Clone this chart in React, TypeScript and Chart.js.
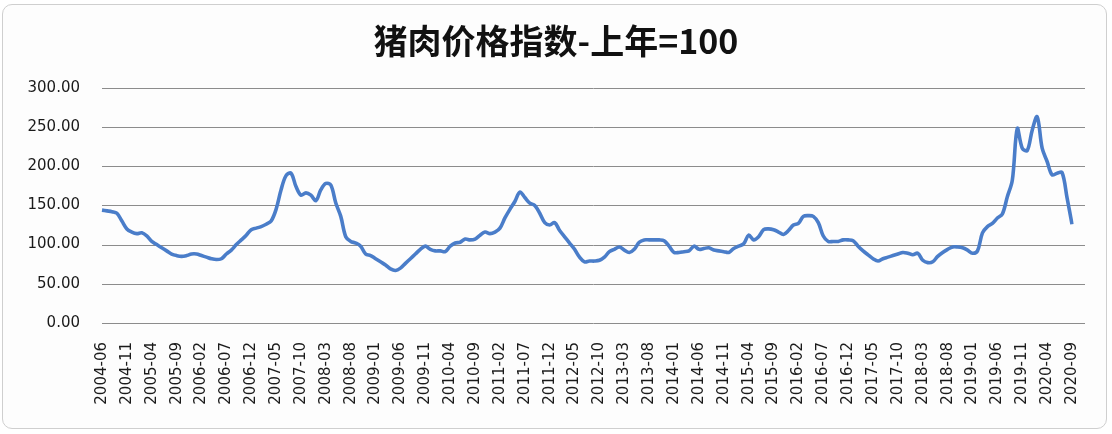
import { useEffect, useRef } from 'react';
import { Chart, registerables } from 'chart.js';

Chart.register(...registerables);

const titleText = '猪肉价格指数-上年=100';

// monthly categories 2004-06 .. 2020-09
const firstYear = 2004;
const firstMonth = 6;
const monthCount = 196;
const months: string[] = [];
for (let k = 0; k < monthCount; k++) {
  const m = firstMonth - 1 + k;
  const yr = firstYear + Math.floor(m / 12);
  const mo = (m % 12) + 1;
  months.push(`${yr}-${mo < 10 ? '0' + mo : mo}`);
}

// 猪肉价格指数 (上年=100)
const porkIndex = [
  144, 143, 142, 140, 130, 120, 116, 114, 115, 111,
  104, 100, 96, 92, 88, 86, 85, 86, 88, 88,
  86, 84, 82, 81, 82, 88, 93, 100, 106, 112,
  119, 121, 123, 126, 130, 145, 170, 188, 191, 174,
  163, 166, 163, 156, 170, 178, 176, 153, 136, 110,
  104, 102, 98, 88, 86, 82, 78, 74, 69, 67,
  70, 76, 82, 88, 94, 98, 94, 92, 92, 91,
  98, 102, 103, 107, 106, 107, 112, 116, 114, 116,
  121, 134, 145, 155, 167, 160, 153, 150, 140, 128,
  125, 128, 118, 110, 102, 94, 84, 78, 79, 79,
  80, 84, 91, 94, 97, 93, 90, 94, 103, 106,
  106, 106, 106, 105, 98, 90, 90, 91, 92, 98,
  94, 95, 96, 93, 92, 91, 90, 95, 98, 101,
  112, 106, 110, 119, 120, 119, 116, 113, 118, 125,
  127, 136, 137, 136, 128, 111, 104, 104, 104, 106,
  106, 105, 98, 92, 87, 82, 79, 82, 84, 86,
  88, 90, 89, 87, 89, 80, 77, 78, 85, 90,
  94, 97, 97, 96, 93, 89, 92, 115, 123, 127,
  134, 139, 161, 182, 248, 223, 220, 246, 263, 223,
  206, 189, 191, 192, 160, 126,
];

const yMin = 0;
const yMax = 300;
const yStep = 50;
const labelEvery = 5;

const extendedGrid = {
  id: 'extendedGrid',
  beforeDatasetsDraw(chart: any) {
    const { ctx, chartArea, scales } = chart;
    const y = scales.y;
    ctx.save();
    ctx.strokeStyle = '#8c8c8c';
    ctx.lineWidth = 1;
    y.ticks.forEach((_t: any, i: number) => {
      const py = Math.round(y.getPixelForTick(i)) + 0.5;
      ctx.beginPath();
      ctx.moveTo(chartArea.left, py);
      ctx.lineTo(chartArea.right + 13, py);
      ctx.stroke();
    });
    ctx.restore();
  },
};

export default function App() {
  const ref = useRef<HTMLCanvasElement | null>(null);

  useEffect(() => {
    if (!ref.current) return;
    const chart = new Chart(ref.current, {
      type: 'line',
      data: {
        labels: months,
        datasets: [
          {
            data: porkIndex,
            borderColor: '#4a7dc9',
            borderWidth: 3.6,
            pointRadius: 0,
            tension: 0.35,
            fill: false,
          },
        ],
      },
      options: {
        animation: false,
        responsive: false,
        maintainAspectRatio: false,
        layout: { padding: 0 },
        plugins: {
          legend: { display: false },
          tooltip: { enabled: false },
          title: {
            display: true,
            text: titleText,
            color: '#111111',
            font: { family: '"Noto Sans CJK SC", sans-serif', size: 34, weight: 'bold' },
            padding: { top: 21, bottom: 26 },
          },
        },
        scales: {
          x: {
            type: 'category',
            offset: false,
            grid: { display: false, drawTicks: false },
            border: { display: false },
            ticks: {
              autoSkip: false,
              maxRotation: 90,
              minRotation: 90,
              padding: 19,
              color: '#1a1a1a',
              font: { family: '"DejaVu Sans", sans-serif', size: 15 },
              callback: (_v: any, i: number) => (i % labelEvery === 0 ? months[i] : ''),
            },
            afterFit: (s: any) => {
              s.height = 111;
            },
          },
          y: {
            min: yMin,
            max: yMax,
            grid: { display: false, drawTicks: false },
            border: { display: false },
            ticks: {
              stepSize: yStep,
              padding: 22,
              color: '#1a1a1a',
              font: { family: '"DejaVu Sans", sans-serif', size: 15 },
              callback: (v: any) => Number(v).toFixed(2),
            },
            afterFit: (s: any) => {
              s.width = 102;
            },
          },
          yRightSpace: {
            type: 'linear',
            position: 'right',
            display: true,
            min: yMin,
            max: yMax,
            grid: { display: false, drawTicks: false },
            border: { display: false },
            ticks: { display: false },
            afterFit: (s: any) => {
              s.width = 40;
            },
          },
        },
      },
      plugins: [extendedGrid],
    });
    return () => chart.destroy();
  }, []);

  return (
    <div style={{ position: 'absolute', left: 0, top: 0, width: 1112, height: 434, background: '#ffffff', overflow: 'hidden' }}>
      <div
        style={{
          position: 'absolute',
          left: 2,
          top: 4,
          width: 1103,
          height: 423,
          border: '1px solid #cfcfcf',
          borderRadius: 10,
          background: '#fdfdfd',
        }}
      />
      <canvas ref={ref} width={1112} height={434} style={{ position: 'absolute', left: 0, top: 0, width: 1112, height: 434 }} />
    </div>
  );
}
